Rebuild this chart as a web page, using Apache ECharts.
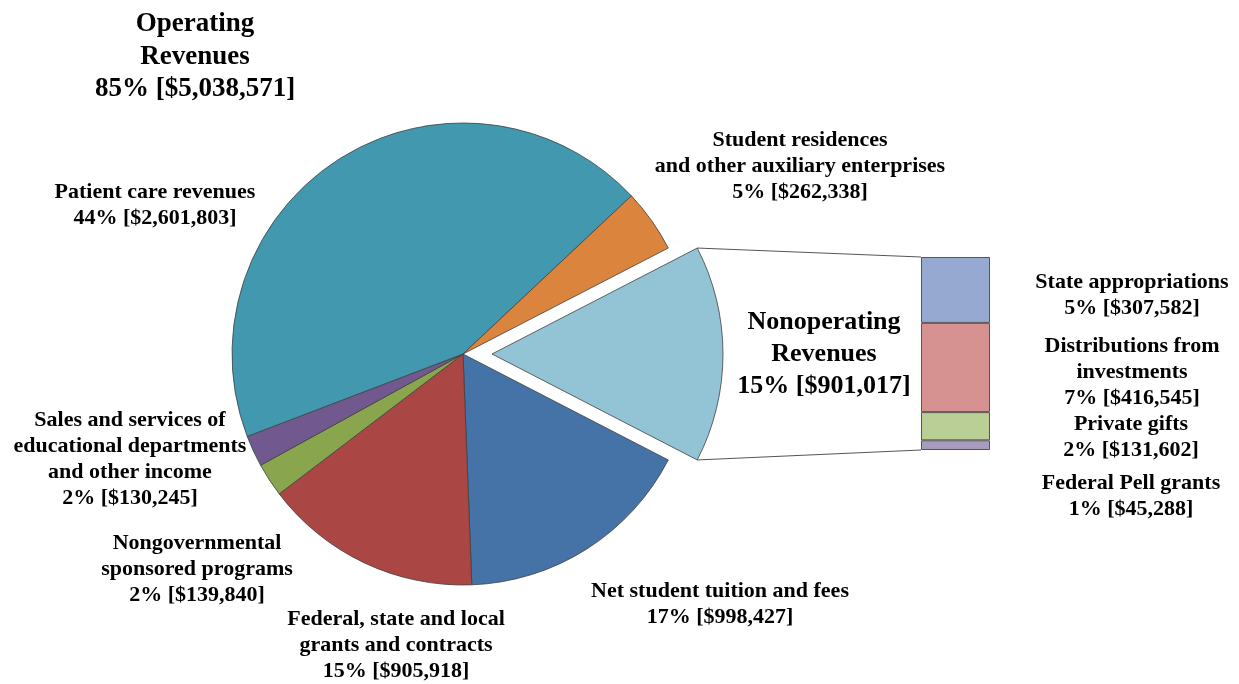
<!DOCTYPE html>
<html>
<head>
<meta charset="utf-8">
<script src="https://cdn.jsdelivr.net/npm/echarts@6/dist/echarts.min.js"></script>
<style>
  html, body { margin: 0; padding: 0; background: #fff; }
  #chart { width: 1239px; height: 684px; }
</style>
</head>
<body>
<div id="chart"></div>
<script>
// pie slices, in clockwise order starting with the exploded one
const pieNames = [
  'Nonoperating\nRevenues',
  'Net student tuition and fees',
  'Federal, state and local\ngrants and contracts',
  'Nongovernmental\nsponsored programs',
  'Sales and services of\neducational departments\nand other income',
  'Patient care revenues',
  'Student residences\nand other auxiliary enterprises'
]
const pieValues = [901017, 998427, 905918, 139840, 130245, 2601803, 262338]
const piePct = ['15%', '17%', '15%', '2%', '2%', '44%', '5%']

// breakdown bar, bottom to top
const barNames = ['Federal Pell grants', 'Private gifts', 'Distributions from\ninvestments', 'State appropriations']
const barValues = [45288, 131602, 416545, 307582]
const barPct = ['1%', '2%', '7%', '5%']

const titleLines = ['Operating', 'Revenues', '85% [$5,038,571]']

// layout / style
const pieColors = ['#93C4D5', '#4572A7', '#AA4643', '#89A54E', '#71588F', '#4198AF', '#DB843D']
const barColors = ['#A99BBD', '#B9CF96', '#D59290', '#95A9D1']
const cx = 463, cy = 354, R = 231, OFF = 29
const grid = { left: 921, top: 257, width: 69, height: 193 }
const pieLabelPos = [[824, 354], [720, 604], [396, 645], [197, 569], [130, 459], [155, 205], [800, 166]]
const barLabelPos = [[1131, 496], [1131, 437], [1132, 372], [1132, 295]]
const FONT = '"Liberation Serif", "Times New Roman", serif'

const fmt = (v) => '$' + v.toLocaleString('en-US')

const chart = echarts.init(document.getElementById('chart'))

const total = pieValues.reduce((a, b) => a + b, 0)
const half = pieValues[0] / total * 180
const a0 = half * Math.PI / 180
const barTotal = barValues.reduce((a, b) => a + b, 0)

// exploded: true -> only the "other" slice is drawn, false -> everything else
const makePieData = (exploded) => pieNames.map((n, i) => {
  const visible = exploded ? i === 0 : i !== 0
  const item = {
    name: n,
    value: pieValues[i],
    itemStyle: visible
      ? { color: pieColors[i] }
      : { color: 'rgba(0,0,0,0)', borderWidth: 0 },
    label: {
      show: visible,
      formatter: n + '\n' + piePct[i] + ' [' + fmt(pieValues[i]) + ']'
    }
  }
  if (i === 0) {
    item.label.fontSize = 26
    item.label.lineHeight = 32
  }
  return item
})

const pieBase = (center, exploded) => ({
  type: 'pie',
  center: center,
  radius: [0, R],
  startAngle: half,
  clockwise: true,
  avoidLabelOverlap: false,
  silent: true,
  data: makePieData(exploded),
  itemStyle: { borderColor: '#404040', borderWidth: 0.8 },
  label: {
    position: 'inside',
    fontFamily: FONT,
    fontWeight: 'bold',
    fontSize: 22,
    lineHeight: 26,
    color: '#000',
    align: 'center'
  },
  labelLine: { show: false },
  labelLayout: (p) => ({ x: pieLabelPos[p.dataIndex][0], y: pieLabelPos[p.dataIndex][1], align: 'center', verticalAlign: 'middle' })
})

const barSeries = barNames.map((n, i) => ({
  type: 'bar',
  stack: 'other',
  xAxisIndex: 0,
  yAxisIndex: 0,
  barWidth: '100%',
  data: [barValues[i]],
  itemStyle: { color: barColors[i], borderColor: '#555', borderWidth: 1 },
  label: {
    show: true,
    position: 'right',
    formatter: n + '\n' + barPct[i] + ' [' + fmt(barValues[i]) + ']',
    fontFamily: FONT,
    fontWeight: 'bold',
    fontSize: 22,
    lineHeight: 26,
    color: '#000',
    align: 'center'
  },
  labelLayout: () => ({ x: barLabelPos[i][0], y: barLabelPos[i][1], align: 'center', verticalAlign: 'middle' }),
  silent: true
}))

const cornerX = cx + OFF + R * Math.cos(a0)

const option = {
  animation: false,
  backgroundColor: '#fff',
  grid: { left: grid.left, top: grid.top, width: grid.width, height: grid.height },
  xAxis: { type: 'category', data: [''], show: false },
  yAxis: { type: 'value', min: 0, max: barTotal, show: false },
  graphic: [
    {
      type: 'text',
      style: {
        text: titleLines.join('\n'),
        x: 195, y: 57,
        textAlign: 'center',
        textVerticalAlign: 'middle',
        font: 'bold 27px ' + FONT,
        lineHeight: 32.5,
        fill: '#000'
      }
    },
    {
      type: 'polyline',
      shape: { points: [[cornerX, cy - R * Math.sin(a0)], [grid.left, grid.top]] },
      style: { stroke: '#555', lineWidth: 1 },
      z: 10
    },
    {
      type: 'polyline',
      shape: { points: [[cornerX, cy + R * Math.sin(a0)], [grid.left, grid.top + grid.height]] },
      style: { stroke: '#555', lineWidth: 1 },
      z: 10
    }
  ],
  series: [
    pieBase([cx, cy], false),
    pieBase([cx + OFF, cy], true),
    ...barSeries
  ]
}

chart.setOption(option)
</script>
</body>
</html>
